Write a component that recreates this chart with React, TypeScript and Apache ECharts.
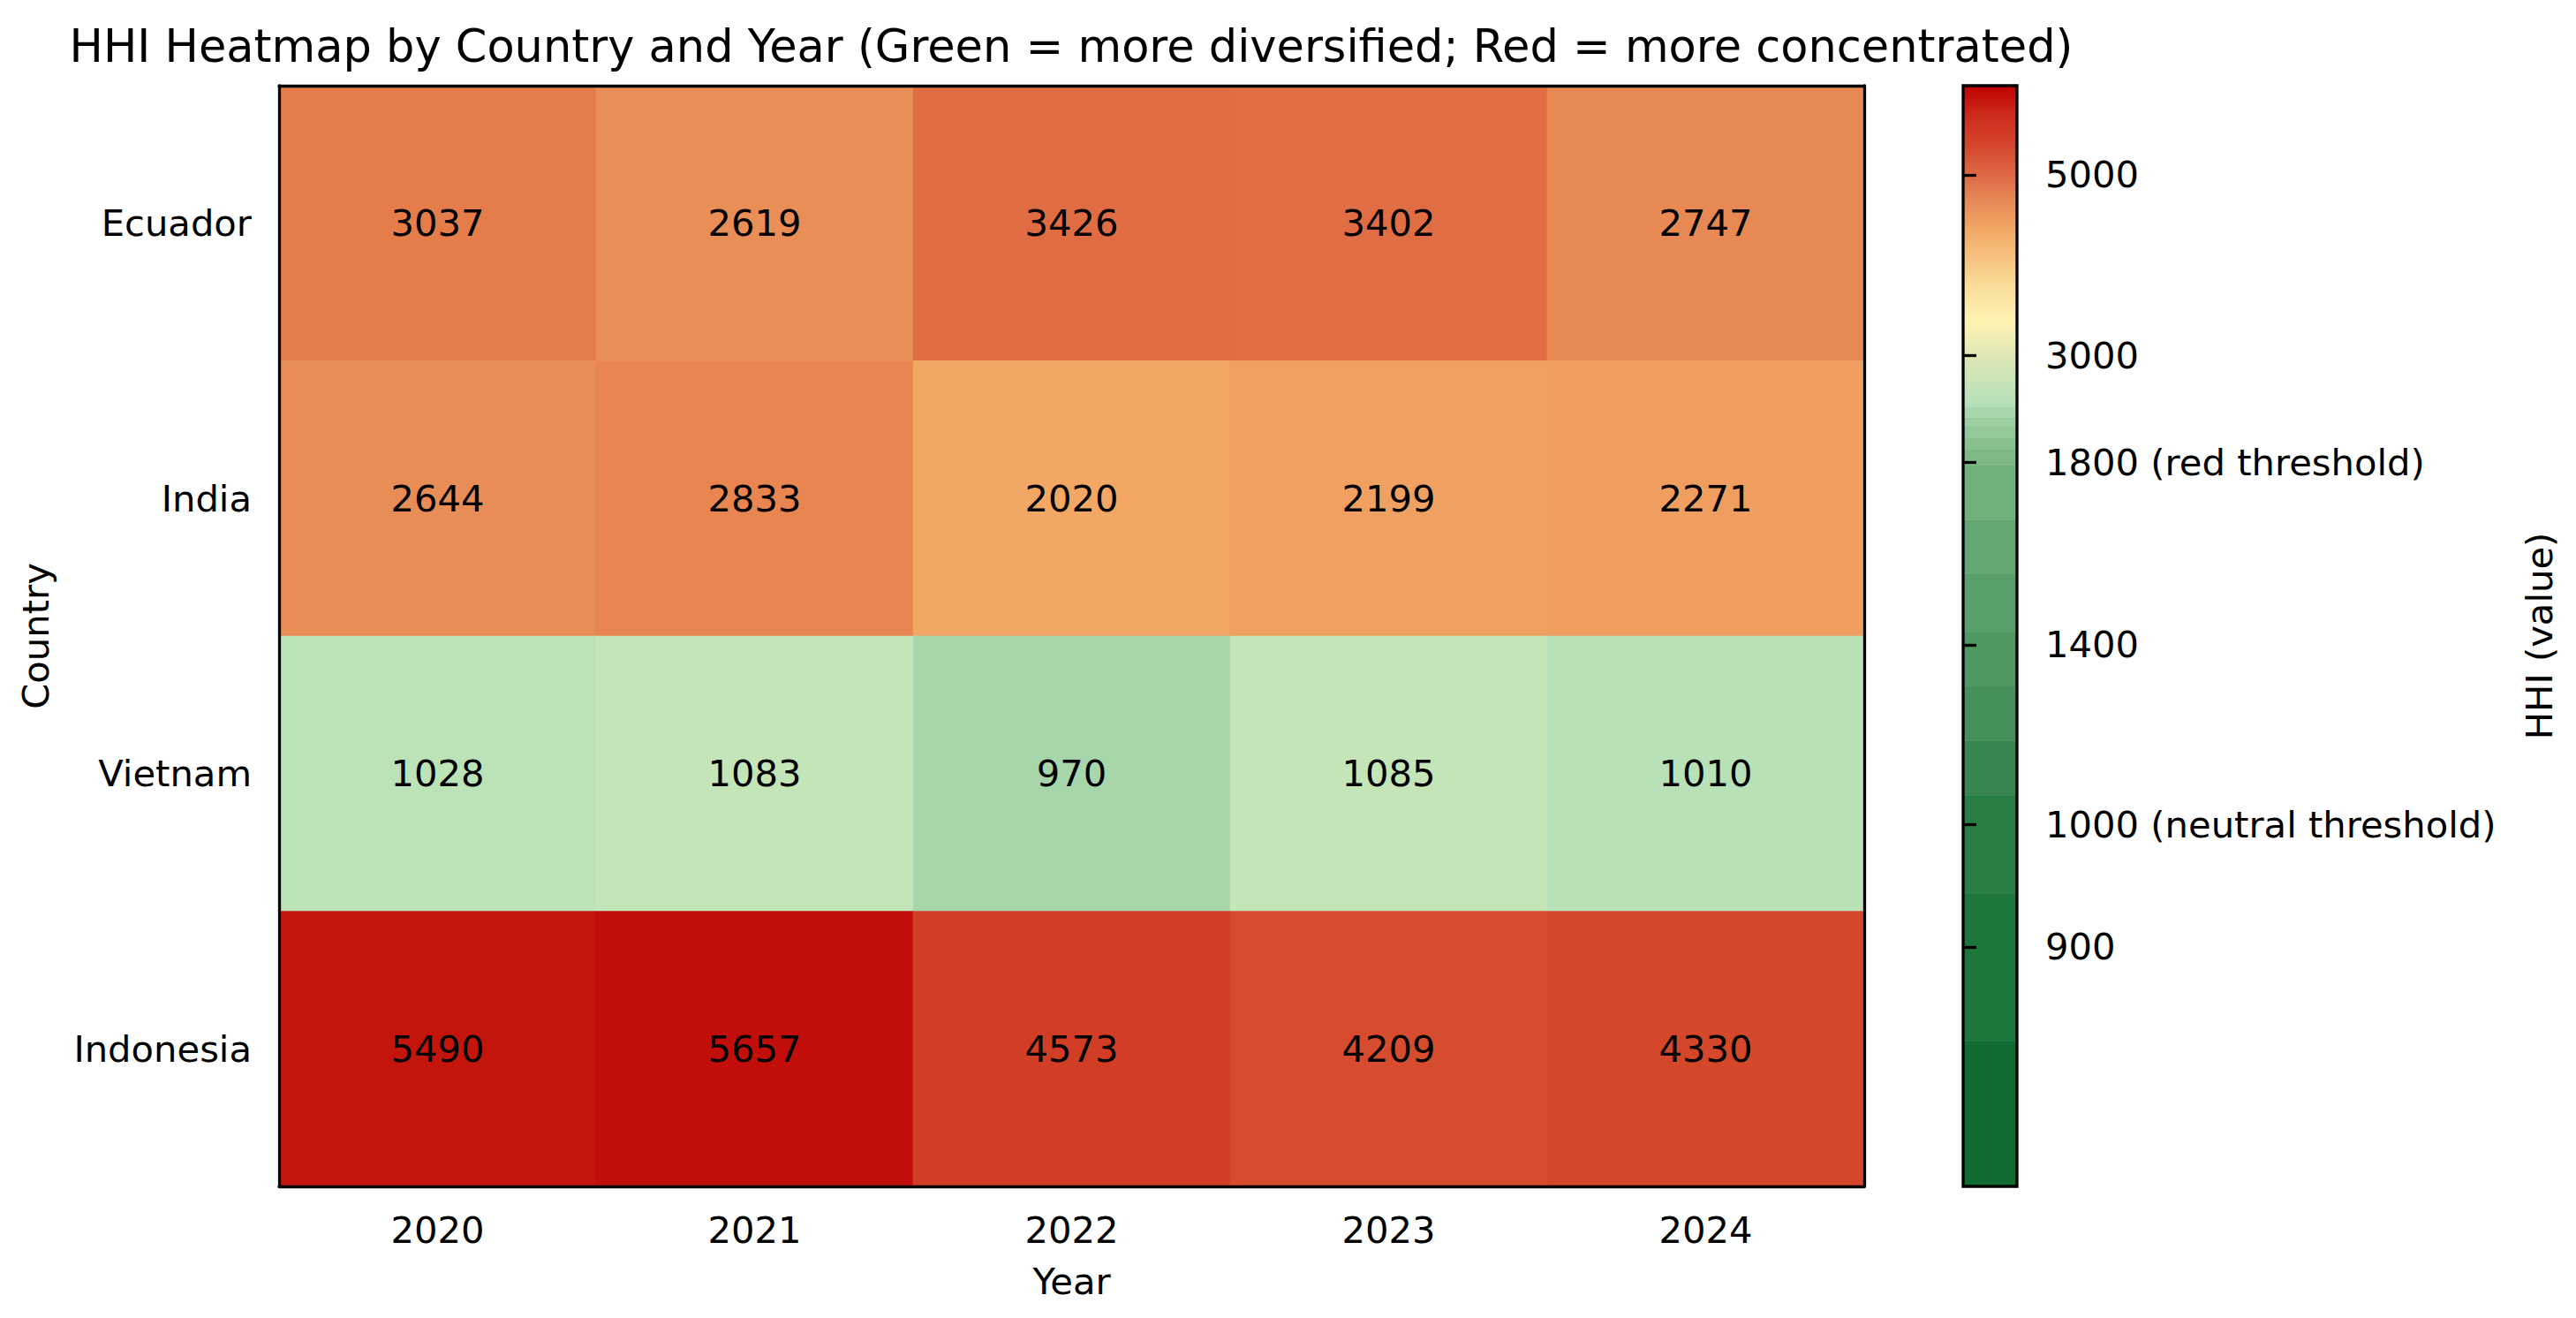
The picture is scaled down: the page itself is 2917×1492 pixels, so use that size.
import React, { useEffect, useRef } from 'react';
import * as echarts from 'echarts';

// ---------------- data ----------------
const YEARS = ['2020', '2021', '2022', '2023', '2024'];
const COUNTRIES = ['Ecuador', 'India', 'Vietnam', 'Indonesia'];
const HHI_ECUADOR = [3037, 2619, 3426, 3402, 2747];
const HHI_INDIA = [2644, 2833, 2020, 2199, 2271];
const HHI_VIETNAM = [1028, 1083, 970, 1085, 1010];
const HHI_INDONESIA = [5490, 5657, 4573, 4209, 4330];
const HHI_ROWS = [HHI_ECUADOR, HHI_INDIA, HHI_VIETNAM, HHI_INDONESIA];

const TITLE = 'HHI Heatmap by Country and Year (Green = more diversified; Red = more concentrated)';

// cell colour scale (value -> colour)
const CELL_SCALE_VALUES = [960, 1000, 1030, 1100, 2000, 2300, 2650, 2800, 3050, 3450, 4200, 4600, 5500, 5700];
const CELL_SCALE_COLORS = ['#a2d3a7', '#b5e0b6', '#bde3b8', '#c6e6b8', '#f3a866', '#ef9d5f', '#e98c56', '#e88652', '#e57c4a', '#e06b43', '#d74c2e', '#d23c25', '#c4140c', '#c10d0a'];

// colorbar norm (value -> position along bar, 0 bottom .. 1 top)
const CBAR_NORM_VALUES = [700, 900, 1000, 1400, 1800, 3000, 5000, 5980];
const CBAR_NORM_POS = [0, 0.2175, 0.329, 0.492, 0.658, 0.755, 0.919, 1.0];
const CBAR_TICK_VALUES = [900, 1000, 1400, 1800, 3000, 5000];
const CBAR_TICK_LABELS = ['900', '1000 (neutral threshold)', '1400', '1800 (red threshold)', '3000', '5000'];

// colormap: discrete bands (lower part) and a smooth gradient (upper part), in bar position
const CMAP_BAND_EDGES = [0, 0.1316, 0.2657, 0.3547, 0.4045, 0.454, 0.503, 0.556, 0.605, 0.655, 0.669, 0.68, 0.69, 0.6986, 0.708];
const CMAP_BAND_COLORS = ['#0f6b31', '#1d773d', '#287e45', '#388651', '#46905b', '#4f9862', '#589f6b', '#65a773', '#70b07b', '#7db985', '#88c18e', '#93c898', '#9dcea2', '#a8d6ad'];
const CMAP_GRAD_POS = [0.708, 0.73, 0.752, 0.768, 0.787, 0.815, 0.847, 0.869, 0.895, 0.918, 0.942, 0.974, 1.0];
const CMAP_GRAD_COLORS = ['#b3dfb9', '#c7e3b8', '#dce6b4', '#eeedb4', '#fff2b3', '#fadf9c', '#f6c07c', '#f2a865', '#e88a58', '#de6a46', '#d64a30', '#cc2a1c', '#c00000'];

// ---------------- helpers ----------------
const FONT = 'DejaVu Sans';
const BASE = 41.7;
const LW = 3.3;

function interp(x: number, xs: number[], ys: number[]): number {
  if (x <= xs[0]) return ys[0];
  if (x >= xs[xs.length - 1]) return ys[ys.length - 1];
  for (let i = 1; i < xs.length; i++) {
    if (x <= xs[i]) {
      const t = (x - xs[i - 1]) / (xs[i] - xs[i - 1]);
      return ys[i - 1] + t * (ys[i] - ys[i - 1]);
    }
  }
  return ys[ys.length - 1];
}

function hexToRgb(h: string): number[] {
  const s = h.replace('#', '');
  return [parseInt(s.slice(0, 2), 16), parseInt(s.slice(2, 4), 16), parseInt(s.slice(4, 6), 16)];
}
function rgbToHex(c: number[]): string {
  return '#' + c.map((v) => Math.round(Math.max(0, Math.min(255, v))).toString(16).padStart(2, '0')).join('');
}
function colorAt(v: number, xs: number[], cs: string[]): string {
  const rgb = cs.map(hexToRgb);
  const out = [0, 1, 2].map((k) => interp(v, xs, rgb.map((c) => c[k])));
  return rgbToHex(out);
}

export default function App() {
  const ref = useRef<HTMLDivElement>(null);

  useEffect(() => {
    document.body.style.margin = '0';
    document.body.style.overflow = 'hidden';
    const chart = echarts.init(ref.current as HTMLDivElement, null, { renderer: 'svg' });

    const cells: number[][] = [];
    HHI_ROWS.forEach((row, yi) => row.forEach((v, xi) => cells.push([xi, yi, v])));

    const cellMin = CELL_SCALE_VALUES[0];
    const cellMax = CELL_SCALE_VALUES[CELL_SCALE_VALUES.length - 1];
    const N = 240;
    const cellSamples: string[] = [];
    for (let i = 0; i <= N; i++) {
      cellSamples.push(colorAt(cellMin + ((cellMax - cellMin) * i) / N, CELL_SCALE_VALUES, CELL_SCALE_COLORS));
    }

    const stops: { offset: number; color: string }[] = [];
    CMAP_BAND_COLORS.forEach((c, i) => {
      stops.push({ offset: CMAP_BAND_EDGES[i], color: c });
      stops.push({ offset: CMAP_BAND_EDGES[i + 1], color: c });
    });
    CMAP_GRAD_POS.forEach((p, i) => stops.push({ offset: p, color: CMAP_GRAD_COLORS[i] }));

    const tickPos = CBAR_TICK_VALUES.map((v) => interp(v, CBAR_NORM_VALUES, CBAR_NORM_POS));

    const txt = { color: '#000', fontFamily: FONT, fontSize: BASE };
    const line = { color: '#000', width: LW };

    const option: any = {
      animation: false,
      backgroundColor: '#fff',
      graphic: [
        {
          type: 'text',
          x: 1213,
          y: 52,
          style: { text: TITLE, fill: '#000', font: `51px "${FONT}"`, align: 'center', verticalAlign: 'middle' },
        },
      ],
      grid: [
        { left: 316, top: 97, width: 1795, height: 1246 },
        { left: 2223, top: 97, width: 61, height: 1246 },
      ],
      xAxis: [
        {
          type: 'category', gridIndex: 0, data: YEARS, position: 'bottom', z: 10,
          axisLine: { lineStyle: line },
          axisTick: { alignWithLabel: true, length: 15, lineStyle: line },
          axisLabel: { ...txt, margin: 28 },
          splitLine: { show: false },
          name: 'Year', nameLocation: 'middle', nameGap: 86, nameTextStyle: txt,
        },
        {
          type: 'category', gridIndex: 0, data: YEARS, position: 'top', z: 10,
          axisLine: { show: true, lineStyle: line }, axisTick: { show: false }, axisLabel: { show: false },
        },
        { type: 'value', gridIndex: 1, min: 0, max: 1, show: false },
      ],
      yAxis: [
        {
          type: 'category', gridIndex: 0, data: COUNTRIES, inverse: true, position: 'left', z: 10,
          axisLine: { lineStyle: line },
          axisTick: { alignWithLabel: true, length: 15, lineStyle: line },
          axisLabel: { ...txt, margin: 31 },
          splitLine: { show: false },
          name: 'Country', nameLocation: 'middle', nameGap: 255, nameRotate: 90, nameTextStyle: txt,
        },
        {
          type: 'category', gridIndex: 0, data: COUNTRIES, inverse: true, position: 'right', z: 10,
          axisLine: { show: true, lineStyle: line }, axisTick: { show: false }, axisLabel: { show: false },
        },
        {
          type: 'value', gridIndex: 1, min: 0, max: 1, position: 'right', z: 10,
          axisLine: { show: false },
          splitLine: { show: false },
          axisTick: { show: true, customValues: tickPos, length: 15, lineStyle: line },
          axisLabel: {
            ...txt, margin: 32, customValues: tickPos,
            formatter: (val: number) => {
              const i = tickPos.findIndex((p) => Math.abs(p - val) < 1e-6);
              return i >= 0 ? CBAR_TICK_LABELS[i] : '';
            },
          },
          name: 'HHI (value)', nameLocation: 'middle', nameGap: 570, nameRotate: 90, nameTextStyle: txt,
        },
      ],
      visualMap: {
        type: 'continuous', show: false, seriesIndex: 0, dimension: 2,
        min: cellMin, max: cellMax, inRange: { color: cellSamples },
      },
      series: [
        {
          type: 'heatmap', xAxisIndex: 0, yAxisIndex: 0, data: cells,
          label: { show: true, ...txt, formatter: (p: any) => String(p.value[2]) },
          itemStyle: { borderWidth: 0 },
          emphasis: { disabled: true },
        },
        {
          type: 'custom', xAxisIndex: 2, yAxisIndex: 2, clip: false,
          data: [[0, 0, 1, 1]],
          encode: { x: [0, 2], y: [1, 3] },
          renderItem: (params: any, api: any) => {
            const p0 = api.coord([api.value(0), api.value(1)]);
            const p1 = api.coord([api.value(2), api.value(3)]);
            return {
              type: 'rect',
              shape: { x: p0[0], y: p1[1], width: p1[0] - p0[0], height: p0[1] - p1[1] },
              style: {
                fill: new echarts.graphic.LinearGradient(0, 1, 0, 0, stops),
                stroke: '#000',
                lineWidth: LW,
              },
            };
          },
        },
      ],
    };

    chart.setOption(option);
    return () => chart.dispose();
  }, []);

  return <div ref={ref} style={{ width: 2917, height: 1492 }} />;
}
